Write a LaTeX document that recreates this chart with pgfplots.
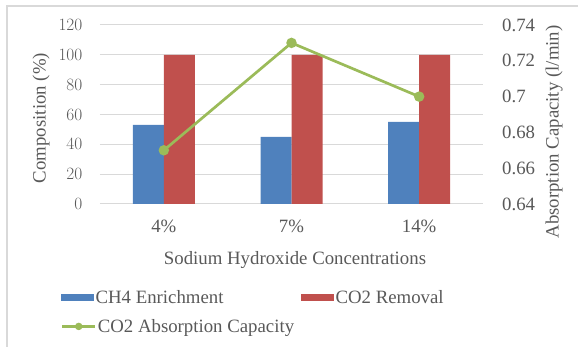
\documentclass[border=0pt]{standalone}
\usepackage{fontspec}
\setmainfont{Liberation Serif}
\usepackage{pgfplots}
\pgfplotsset{compat=1.18}

\definecolor{txt}{HTML}{595959}
\definecolor{gridc}{HTML}{D9D9D9}
\definecolor{barblue}{HTML}{4F81BD}
\definecolor{barred}{HTML}{C0504D}
\definecolor{linegreen}{HTML}{9BBB59}

\newcommand{\chartfont}{\fontsize{18.8}{22}\selectfont}

\pgfplotsset{
  common/.style={
    at={(0pt,0pt)}, anchor=south west,
    scale only axis, width=383pt, height=179pt,
    xmin=-0.5, xmax=2.5,
    major tick length=0pt,
    tick label style={font=\chartfont, text=txt},
  },
  keylegend/.style={
    legend cell align=left,
    legend style={draw=none, fill=none, font=\chartfont, text=txt,
      anchor=north west, inner sep=0pt,
      nodes={inner xsep=1.5pt, inner ysep=2pt}},
  },
}

% Composition of the treated gas (%)
\pgfplotstableread{
x  ch4  co2
0  53   100
1  45   100
2  55   100
}\composition

% CO2 absorption capacity (l/min)
\pgfplotstableread{
x  cap
0  0.67
1  0.73
2  0.70
}\capacity

\begin{document}
\begin{tikzpicture}[x=1pt,y=1pt]
\path[use as bounding box] (-100,-143) rectangle (478,204);
\draw[gridc, line width=1.2pt] (-93,-143) -- (-93,198) -- (478,198);

\begin{axis}[
  common, keylegend,
  ymin=0, ymax=120, ytick={0,20,...,120},
  xtick={0,1,2}, xticklabels={4\%,7\%,14\%},
  ymajorgrids, grid style={gridc, line width=1pt},
  axis line style={draw=none},
  yticklabel style={inner sep=0pt, xshift=-17.5pt},
  xticklabel style={inner sep=0pt, yshift=-15.5pt},
  ybar=0pt, bar width=31pt,
  legend columns=2,
  legend image code/.code={\fill[#1] (0pt,-3.5pt) rectangle (33pt,3.5pt);},
  legend style={at={(-0.102,-0.47)},
    /tikz/every even column/.append style={column sep=76pt}},
]
\addplot[fill=barblue, draw=none] table[x=x, y=ch4] {\composition};
\addlegendentry{CH4 Enrichment}
\addplot[fill=barred, draw=none] table[x=x, y=co2] {\composition};
\addlegendentry{CO2 Removal}
\end{axis}

\begin{axis}[
  common, keylegend,
  ymin=0.64, ymax=0.74,
  ytick={0.64,0.66,0.68,0.70,0.72,0.74},
  yticklabels={0.64,0.66,0.68,0.7,0.72,0.74},
  axis x line=none, axis y line*=right,
  axis line style={draw=none},
  yticklabel style={inner sep=0pt, xshift=19pt},
  legend image code/.code={
    \draw[#1, line width=2.2pt] (0pt,0pt) -- (33pt,0pt);
    \fill[linegreen] (16.5pt,0pt) circle (2.3pt);},
  legend style={at={(-0.102,-0.631)}},
]
\addplot[linegreen, line width=2.7pt, mark=*, mark size=3.8pt,
  mark options={fill=linegreen, draw=linegreen}]
  table[x=x, y=cap] {\capacity};
\addlegendentry{CO2 Absorption Capacity}
\end{axis}

\node[rotate=90, text=txt, font=\chartfont] at (-59,86) {Composition (\%)};
\node[rotate=90, text=txt, font=\chartfont] at (454,72) {Absorption Capacity (l/min)};
\node[anchor=base, text=txt, font=\chartfont] at (195,-61) {Sodium Hydroxide Concentrations};
\end{tikzpicture}
\end{document}
